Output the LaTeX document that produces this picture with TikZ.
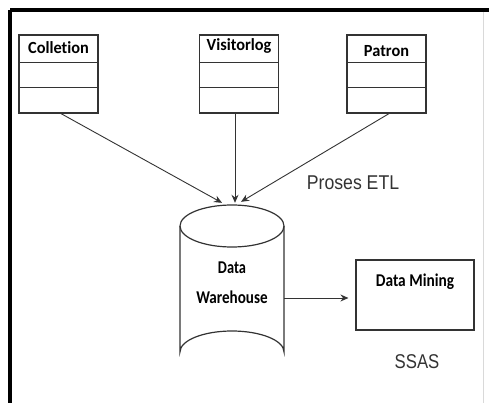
\documentclass[tikz,border=0pt]{standalone}
\usepackage{fontspec}
\usetikzlibrary{arrows.meta}
\newfontfamily\calfont{Carlito}[Ligatures=NoCommon]
\newfontfamily\arifont{Liberation Sans}
\definecolor{inkgray}{HTML}{333333}
\begin{document}
\begin{tikzpicture}[x=1pt,y=-1pt,
  classbox/.style={draw=inkgray,line width=1.2pt,minimum width=79pt,minimum height=78pt,inner sep=0pt},
  classtitle/.style={font=\calfont\bfseries\fontsize{17}{17}\selectfont,inner sep=0pt},
  boldlabel/.style={font=\calfont\bfseries\fontsize{18}{18}\selectfont,inner sep=0pt},
  flow/.style={draw=inkgray,line width=0.9pt,-{Stealth[length=8pt,width=7pt]}},
  cyl/.style={draw=inkgray,line width=1.2pt},
  note/.style={font=\arifont\fontsize{19}{19}\selectfont,text=inkgray,inner sep=0pt}]
\useasboundingbox (0,0) rectangle (489,403);
\fill[white] (0,0) rectangle (489,403);
% page frame
\draw[line width=3.2pt] (10,10) -- (489,10);
\draw[line width=3.2pt] (10,10) -- (10,403);
\draw[black!15,line width=0.8pt] (483,12) -- (483,403);

% source tables
\node[classbox] (col) at (58.5,74) {};
\node[classbox] (vis) at (239,74) {};
\node[classbox] (pat) at (386.5,74) {};
\foreach \t in {col,vis,pat}{
  \draw[inkgray,line width=1.2pt] ([yshift=-28pt]\t.north west) -- ([yshift=-28pt]\t.north east);
  \draw[inkgray,line width=1.2pt] ([yshift=-53pt]\t.north west) -- ([yshift=-53pt]\t.north east);
}
\node[classtitle] (colt) at (58.5,48) {\scalebox{0.96}[1]{Colletion}};
\node[classtitle] (vist) at (239,46) {\scalebox{0.96}[1]{Visitorlog}};
\node[classtitle] (patt) at (386.5,51) {\scalebox{0.96}[1]{Patron}};

% data warehouse cylinder
\node[minimum width=104pt,minimum height=168pt,inner sep=0pt] (dw) at (232,289) {};
\draw[cyl,fill=white] (180,226) -- (180,352) arc[start angle=180,end angle=360,x radius=52,y radius=21] -- (284,226);
\draw[cyl] (232,226) ellipse[x radius=52,y radius=21];
\node[boldlabel] (dwa) at (232,268) {\scalebox{0.8}[1]{Data}};
\node[boldlabel] (dwb) at (232,297) {\scalebox{0.84}[1]{Warehouse}};

% data mining
\node[draw=inkgray,line width=1.2pt,minimum width=118pt,minimum height=70pt,inner sep=0pt] (dm) at (415,295) {};
\node[boldlabel] (dmt) at (415,282) {\scalebox{0.855}[1]{Data Mining}};

% captions
\node[note] (etl) at (353,183) {\scalebox{0.93}[1.05]{Proses ETL}};
\node[note] (ssas) at (417,362) {\scalebox{0.88}[1.05]{SSAS}};

% connectors
\draw[flow] ([xshift=2.5pt]col.south) -- ([xshift=-10pt,yshift=2pt]dw.north);
\draw[flow] ([xshift=-4pt]vis.south) -- ([xshift=3pt,yshift=2pt]dw.north);
\draw[flow] ([xshift=2.5pt]pat.south) -- ([xshift=9pt,yshift=3pt]dw.north);
\draw[flow,shorten >=7pt] (dw.east |- 0,298) -- (dm.west |- 0,298);
\end{tikzpicture}
\end{document}
